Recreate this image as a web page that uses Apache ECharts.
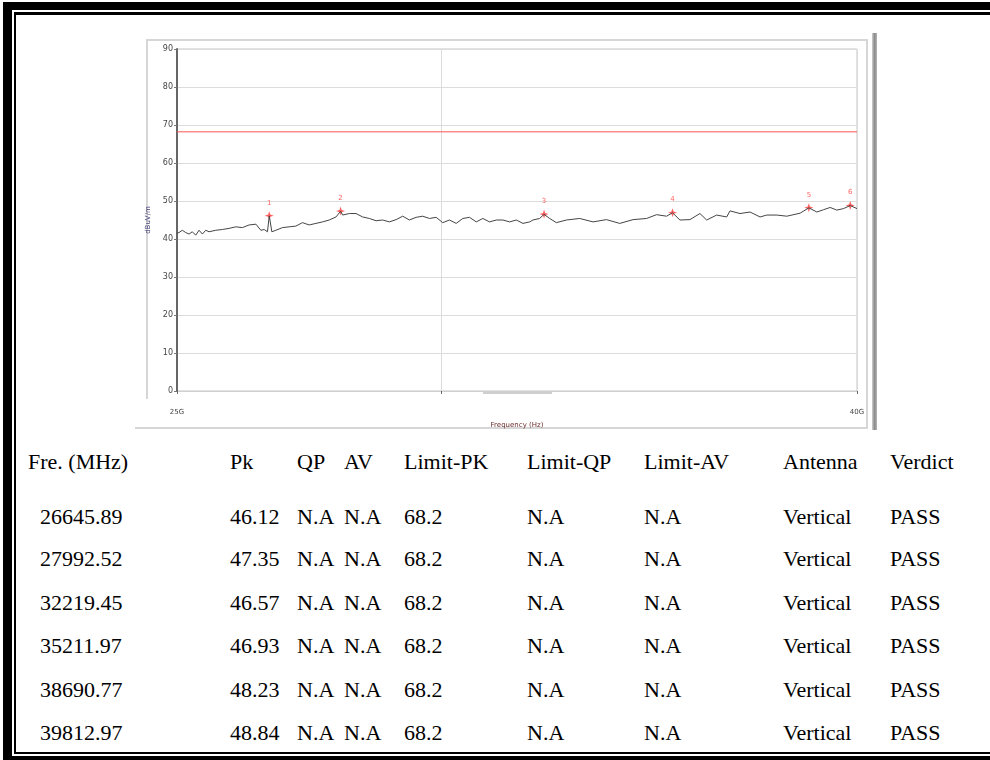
<!DOCTYPE html>
<html>
<head>
<meta charset="utf-8">
<script src="https://cdn.jsdelivr.net/npm/echarts@6/dist/echarts.min.js"></script>
<style>
html, body { margin: 0; padding: 0; background: #fff; }
body { width: 990px; height: 760px; overflow: hidden; position: relative; }
#outer { position: absolute; left: 3px; top: 2px; width: 1100px; height: 758px; box-sizing: border-box;
	border-top: 8px solid #000; border-left: 9px solid #000; border-bottom: 4px solid #000; }
#inner { position: absolute; left: 14px; top: 12px; width: 1100px; height: 742px; box-sizing: border-box;
	border-top: 3px solid #000; border-left: 2px solid #000; border-bottom: 2px solid #000; }
#frame { position: absolute; left: 146px; top: 39px; width: 722px; height: 360px; box-sizing: border-box;
	border: 2px solid #d6d6d6; border-bottom: none; }
#frameBottom { position: absolute; left: 135px; top: 427px; width: 733px; height: 2px; background: #d6d6d6; }
#frameRight { position: absolute; left: 866px; top: 39px; width: 2px; height: 390px; background: #d6d6d6; }
#bar { position: absolute; left: 872px; top: 33px; width: 5px; height: 397px;
	background: linear-gradient(to right, #cfcfcf, #8c8c8c 50%, #b4b4b4); }
#scroll { position: absolute; left: 483px; top: 392px; width: 69px; height: 2px; background: #cfcfcf; }
#chart { position: absolute; left: 0; top: 0; width: 990px; height: 440px; }
.row { position: absolute; left: 0; height: 30px; font-family: 'Liberation Serif', 'Times New Roman', serif;
	font-size: 22px; color: #000; }
.row span { position: absolute; top: 0; white-space: nowrap; }
</style>
</head>
<body>
<div id="outer"></div>
<div id="inner"></div>
<div id="frame"></div>
<div id="frameBottom"></div>
<div id="frameRight"></div>
<div id="bar"></div>
<div id="scroll"></div>
<div id="chart"></div>
<div id="table"></div>
<script>
// measured trace (MHz, dBuV/m)
var traceFreq = [25000, 25035, 25092, 25151, 25209, 25266, 25326, 25384, 25442, 25502, 25560, 25679,
	25797, 25917, 26037, 26157, 26278, 26401, 26492, 26553, 26613, 26646, 26694, 26768, 26891, 27016,
	27141, 27265, 27392, 27520, 27646, 27774, 27904, 27993, 28032, 28162, 28293, 28423, 28555, 28688,
	28819, 28953, 29088, 29221, 29357, 29493, 29628, 29766, 29904, 30041, 30181, 30321, 30460, 30602,
	30744, 30885, 31029, 31173, 31316, 31462, 31608, 31753, 31900, 31973, 32122, 32219, 32345, 32495,
	32721, 33024, 33330, 33640, 33951, 34265, 34585, 34825, 35067, 35212, 35392, 35638, 35885, 36052,
	36303, 36555, 36639, 36893, 37150, 37408, 37582, 37843, 38106, 38458, 38691, 38905, 39083, 39265,
	39447, 39628, 39813, 40000];
var traceLevel = [41.5, 41.7, 42.3, 41.7, 41.3, 41.9, 41.0, 42.3, 41.3, 42.3, 41.9, 42.3,
	42.5, 42.8, 43.2, 43.0, 43.7, 43.9, 42.3, 42.5, 41.9, 46.1, 41.9, 42.3, 43.0, 43.2,
	43.4, 44.3, 43.7, 44.1, 44.5, 45.0, 45.8, 47.3, 46.3, 46.7, 46.7, 45.8, 45.4, 44.8,
	45.0, 44.5, 45.1, 46.0, 45.0, 45.7, 46.0, 45.4, 45.7, 44.3, 45.0, 44.1, 45.4, 45.7,
	44.5, 45.4, 44.5, 45.0, 45.0, 44.5, 45.0, 44.1, 44.5, 45.0, 45.4, 46.5, 45.4, 44.3,
	45.0, 45.4, 44.5, 45.1, 44.1, 45.1, 45.4, 46.4, 46.0, 46.9, 45.0, 45.1, 46.7, 45.0,
	46.3, 45.8, 47.4, 46.7, 47.1, 45.8, 46.3, 46.3, 46.0, 46.8, 48.2, 47.1, 47.7, 48.3,
	47.6, 48.0, 48.8, 48.0];

// limit line
var limitFreq = [25000, 40000];
var limitLevel = [68.2, 68.2];

// peak markers / table rows
var markerFreq = ['26645.89', '27992.52', '32219.45', '35211.97', '38690.77', '39812.97'];
var markerPk = ['46.12', '47.35', '46.57', '46.93', '48.23', '48.84'];
var markerLimit = ['68.2', '68.2', '68.2', '68.2', '68.2', '68.2'];

var yTicks = [0, 10, 20, 30, 40, 50, 60, 70, 80, 90];
var xTickValues = [25000, 30000, 40000];
var xLabelValues = [25000, 40000];

var headers = ['Fre. (MHz)', 'Pk', 'QP', 'AV', 'Limit-PK', 'Limit-QP', 'Limit-AV', 'Antenna', 'Verdict'];

var SpectrumChart = function(){
	this.mychart = echarts.init(document.getElementById('chart'));

	this.initChart = function(){
		var trace = traceFreq.map(function(f, i){ return [f, traceLevel[i]]; });
		var limit = limitFreq.map(function(f, i){ return [f, limitLevel[i]]; });
		var peaks = markerFreq.map(function(f, i){ return [parseFloat(f), parseFloat(markerPk[i])]; });

		var option = {
			animation: false,
			grid: {
				left: 177, top: 49, width: 680, height: 342,
				show: true, borderColor: '#c4c4c4', borderWidth: 1
			},
			xAxis: {
				type: 'log',
				logBase: 10,
				min: 25000,
				max: 40000,
				name: 'Frequency (Hz)',
				nameLocation: 'middle',
				nameGap: 31,
				nameTextStyle: { fontFamily: 'DejaVu Sans', fontSize: 7, color: '#6b2b2b' },
				axisLine: { show: true, lineStyle: { color: '#d0d0d0' } },
				axisTick: { show: true, customValues: xTickValues, length: 3, lineStyle: { color: '#666' } },
				axisLabel: {
					customValues: xLabelValues,
					margin: 18,
					fontFamily: 'DejaVu Sans', fontSize: 7, color: '#444',
					formatter: function(v){ return Math.round(v / 1000) + 'G'; }
				},
				splitLine: { show: true, lineStyle: { color: '#dcdcdc' } }
			},
			yAxis: {
				type: 'value',
				min: yTicks[0],
				max: yTicks[yTicks.length - 1],
				interval: 10,
				name: 'dBuV/m',
				nameLocation: 'middle',
				nameRotate: 90,
				nameGap: 19,
				nameTextStyle: { fontFamily: 'DejaVu Sans', fontSize: 7, color: '#3f3a72' },
				axisLine: { show: true, lineStyle: { color: '#666', width: 2 } },
				axisTick: { show: true, length: 3, lineStyle: { color: '#777' } },
				axisLabel: { fontFamily: 'DejaVu Sans', fontSize: 8, color: '#444', margin: 4 },
				splitLine: { show: true, lineStyle: { color: '#dcdcdc' } }
			},
			series: [{
				type: 'line',
				data: limit,
				symbol: 'none',
				lineStyle: { color: '#ff5252', width: 1 },
				silent: true
			}, {
				type: 'line',
				data: trace,
				symbol: 'none',
				lineStyle: { color: '#444', width: 1 },
				silent: true
			}, {
				type: 'scatter',
				data: peaks,
				symbol: 'path://M0,-10 L2.5,-2.5 L10,0 L2.5,2.5 L0,10 L-2.5,2.5 L-10,0 L-2.5,-2.5 Z',
				symbolSize: 9,
				itemStyle: { color: '#ff3b3b' },
				label: {
					show: true,
					position: 'top',
					distance: 5,
					fontFamily: 'DejaVu Sans',
					fontSize: 7,
					color: '#ff3b3b',
					formatter: function(p){ return String(p.dataIndex + 1); }
				}
			}]
		};

		this.mychart.setOption(option);
	}
}

function buildTable(){
	var colX = [28, 230, 297, 344, 404, 527, 644, 783, 890];
	var rowY = [449, 504, 546, 590, 633, 677, 720];
	var table = document.getElementById('table');
	var rows = [headers];
	for (var i = 0; i < markerFreq.length; i++) {
		rows.push([markerFreq[i], markerPk[i], 'N.A', 'N.A', markerLimit[i], 'N.A', 'N.A', 'Vertical', 'PASS']);
	}
	rows.forEach(function(r, ri){
		var div = document.createElement('div');
		div.className = 'row';
		div.style.top = rowY[ri] + 'px';
		r.forEach(function(t, ci){
			var s = document.createElement('span');
			// the frequency values sit a little to the right of their header
			s.style.left = (ri > 0 && ci === 0 ? 40 : colX[ci]) + 'px';
			s.textContent = t;
			div.appendChild(s);
		});
		table.appendChild(div);
	});
}

var chart = new SpectrumChart();
chart.initChart();
buildTable();
</script>
</body>
</html>
